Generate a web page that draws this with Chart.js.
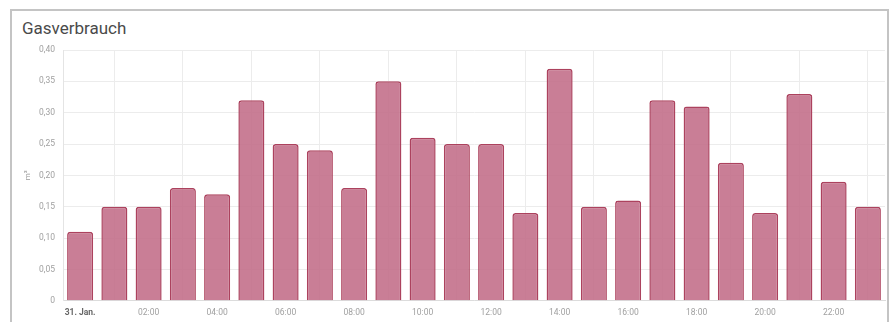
<!DOCTYPE html>
<html>
<head>
<meta charset="utf-8">
<script src="https://cdn.jsdelivr.net/npm/chart.js@4/dist/chart.umd.min.js"></script>
<style>
  html, body { margin: 0; padding: 0; background: #ffffff; width: 893px; height: 322px; overflow: hidden; }
  .card { position: absolute; left: 10px; top: 9px; width: 879px; height: 340px; border: 2px solid #c4c4c4; border-bottom: none; box-sizing: border-box; background: #fff; }
  .title { position: absolute; left: 22px; top: 18px; font-family: Roboto, "Noto Sans", sans-serif; font-size: 17px; color: #4a4a4a; }
  #wrap { position: absolute; left: 0; top: 0; width: 893px; height: 322px; }
</style>
</head>
<body>
<div class="card"></div>
<div class="title">Gasverbrauch</div>
<div id="wrap"><canvas id="c"></canvas></div>
<script>
// Hourly gas consumption over one day
const hours = ['31. Jan.', '01:00', '02:00', '03:00', '04:00', '05:00', '06:00', '07:00',
               '08:00', '09:00', '10:00', '11:00', '12:00', '13:00', '14:00', '15:00',
               '16:00', '17:00', '18:00', '19:00', '20:00', '21:00', '22:00', '23:00'];
const consumption = [0.11, 0.15, 0.15, 0.18, 0.17, 0.32, 0.25, 0.24,
                     0.18, 0.35, 0.26, 0.25, 0.25, 0.14, 0.37, 0.15,
                     0.16, 0.32, 0.31, 0.22, 0.14, 0.33, 0.19, 0.15];
const yTicks = [0, 0.05, 0.10, 0.15, 0.20, 0.25, 0.30, 0.35, 0.40];
const unit = 'm³';

const tickFont = { family: 'Roboto, "Noto Sans", sans-serif', size: 8.5 };

new Chart(document.getElementById('c'), {
  type: 'bar',
  data: {
    labels: hours,
    datasets: [{
      label: 'Gasverbrauch',
      data: consumption,
      backgroundColor: 'rgba(194, 108, 136, 0.88)',
      borderColor: 'rgb(172, 66, 94)',
      borderWidth: 1.5,
      borderRadius: 3,
      borderSkipped: 'bottom',
      categoryPercentage: 0.76,
      barPercentage: 1.0
    }]
  },
  options: {
    responsive: true,
    maintainAspectRatio: false,
    animation: false,
    layout: { padding: { left: 23, right: 8, top: 50, bottom: -3 } },
    plugins: { legend: { display: false }, tooltip: { enabled: false } },
    scales: {
      x: {
        offset: true,
        grid: {
          offset: false,
          drawTicks: false,
          color: (ctx) => (ctx.index % 2 === 1 ? '#ececec' : 'rgba(0,0,0,0)')
        },
        border: { color: '#dcdcdc' },
        ticks: {
          autoSkip: false,
          maxRotation: 0,
          padding: 7,
          color: (ctx) => (ctx.index === 0 ? '#666' : '#a0a0a0'),
          font: (ctx) => (ctx.index === 0 ? Object.assign({ weight: 'bold' }, tickFont) : tickFont),
          callback: function (value, index) {
            return index % 2 === 0 ? this.getLabelForValue(value) : '';
          }
        }
      },
      y: {
        min: yTicks[0],
        max: yTicks[yTicks.length - 1],
        afterFit: (scale) => { scale.width = 40; },
        afterBuildTicks: (scale) => { scale.ticks = yTicks.map(v => ({ value: v })); },
        grid: { drawTicks: false, color: '#ececec' },
        border: { color: '#e4e4e4' },
        title: { display: true, text: unit, color: '#999', font: { family: tickFont.family, size: 8 }, padding: 0 },
        ticks: {
          padding: 8,
          color: '#a0a0a0',
          font: tickFont,
          callback: (v) => (v === 0 ? '0' : v.toFixed(2).replace('.', ','))
        }
      }
    }
  }
});
</script>
</body>
</html>
